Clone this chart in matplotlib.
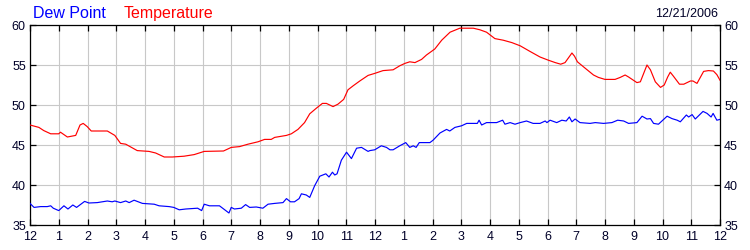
import matplotlib
matplotlib.use("Agg")
import matplotlib.pyplot as plt

plt.rcParams['font.family'] = ['Liberation Sans', 'DejaVu Sans']

# hours since midnight
temp_hours = [0, 0.31, 0.48, 0.72, 1.0, 1.06, 1.3, 1.59, 1.74, 1.85, 1.99, 2.13, 2.69, 2.95, 3.15, 3.33,
              3.73, 4.14, 4.37, 4.67, 4.95, 5.36, 5.71, 6.06, 6.73, 7.0, 7.29, 7.58, 7.93, 8.16, 8.39, 8.51,
              8.92, 9.09, 9.32, 9.55, 9.73, 9.96, 10.17, 10.31, 10.54, 10.71, 10.91, 11.06, 11.24, 11.47,
              11.76, 11.99, 12.28, 12.63, 12.86, 13.04, 13.21, 13.39, 13.62, 13.79, 14.08, 14.32, 14.61,
              14.95, 15.42, 15.65, 15.88, 16.17, 16.46, 16.76, 17.05, 17.39, 17.74, 18.03, 18.27, 18.46,
              18.61, 18.73, 18.85, 18.94, 19.04, 19.31, 19.6, 19.77, 20.0, 20.35, 20.53, 20.7, 20.82,
              21.11, 21.23, 21.46, 21.58, 21.75, 21.93, 22.06, 22.18, 22.27, 22.38, 22.59, 22.74, 22.97,
              23.06, 23.2, 23.43, 23.6, 23.77, 23.89, 24.0]
temperature = [47.5, 47.2, 46.8, 46.4, 46.4, 46.6, 46.0, 46.2, 47.5, 47.7, 47.3, 46.75, 46.75, 46.2, 45.2, 45.1,
               44.3, 44.2, 44.0, 43.5, 43.5, 43.6, 43.8, 44.2, 44.25, 44.7, 44.8, 45.1, 45.4, 45.7, 45.7, 45.95,
               46.2, 46.4, 46.95, 47.8, 48.9, 49.6, 50.2, 50.2, 49.8, 50.1, 50.7, 51.9, 52.4, 53.0,
               53.7, 53.95, 54.3, 54.4, 54.9, 55.2, 55.4, 55.3, 55.7, 56.25, 57.0, 58.1, 59.1,
               59.6, 59.6, 59.4, 59.1, 58.3, 58.1, 57.8, 57.4, 56.7, 56.0, 55.6, 55.3, 55.1,
               55.3, 55.9, 56.5, 56.1, 55.4, 54.6, 53.75, 53.45, 53.2, 53.2, 53.45, 53.75, 53.5,
               52.8, 52.9, 55.0, 54.4, 52.9, 52.2, 52.5, 53.5, 54.1, 53.6, 52.6, 52.6, 53.0,
               53.0, 52.7, 54.2, 54.3, 54.25, 53.8, 53.1]

dew_hours = [0, 0.14, 0.37, 0.6, 0.72, 0.81, 1.0, 1.18, 1.32, 1.49, 1.62, 1.9, 2.05, 2.34, 2.69, 2.86, 2.95,
             3.15, 3.33, 3.45, 3.62, 3.91, 4.32, 4.49, 4.84, 5.0, 5.19, 5.42, 5.83, 5.97, 6.06, 6.24, 6.59,
             6.77, 6.92, 7.0, 7.11, 7.35, 7.5, 7.64, 7.87, 8.1, 8.28, 8.51, 8.8, 8.92, 9.06, 9.2, 9.36, 9.44,
             9.61, 9.73, 9.9, 10.08, 10.29, 10.4, 10.52, 10.6, 10.68, 10.83, 11.01, 11.18, 11.36, 11.53,
             11.76, 11.82, 11.99, 12.22, 12.4, 12.52, 12.63, 12.86, 13.07, 13.21, 13.33, 13.43, 13.54, 13.74,
             13.91, 14.02, 14.26, 14.49, 14.6, 14.78, 15.01, 15.19, 15.56, 15.62, 15.71, 15.88, 16.23, 16.44,
             16.52, 16.7, 16.87, 17.05, 17.27, 17.5, 17.74, 17.92, 17.98, 18.09, 18.32, 18.5, 18.65, 18.76,
             18.85, 18.96, 19.13, 19.48, 19.66, 19.95, 20.24, 20.44, 20.65, 20.82, 21.11, 21.29, 21.46, 21.58,
             21.69, 21.86, 22.16, 22.33, 22.51, 22.62, 22.83, 22.91, 23.03, 23.14, 23.41, 23.55, 23.69, 23.76,
             23.89, 24.0]
dew_point = [37.7, 37.2, 37.3, 37.3, 37.4, 37.1, 36.8, 37.4, 37.0, 37.5, 37.2, 37.95, 37.75, 37.8, 38.0, 37.9, 38.0,
             37.8, 38.0, 37.8, 38.1, 37.7, 37.6, 37.4, 37.3, 37.2, 36.9, 37.0, 37.1, 36.8, 37.6, 37.4, 37.4,
             36.9, 36.5, 37.2, 37.0, 37.1, 37.55, 37.2, 37.25, 37.1, 37.6, 37.7, 37.8, 38.3, 37.9, 37.9, 38.3, 38.9,
             38.75, 38.45, 39.9, 41.1, 41.4, 41.0, 41.6, 41.25, 41.4, 43.1, 44.1, 43.3, 44.6, 44.7,
             44.2, 44.3, 44.4, 44.9, 44.7, 44.4, 44.4, 44.9, 45.3, 44.7, 44.9, 44.7, 45.3, 45.3,
             45.3, 45.6, 46.5, 46.95, 46.75, 47.2, 47.4, 47.7, 47.7, 48.1, 47.5, 47.8, 47.8, 48.1,
             47.6, 47.8, 47.6, 47.8, 48.0, 47.7, 47.7, 48.0, 47.8, 48.1, 47.8, 48.1, 48.0, 48.5,
             47.9, 48.25, 47.8, 47.7, 47.8, 47.7, 47.8, 48.1, 48.0, 47.7, 47.8, 48.6, 48.25, 48.3,
             47.7, 47.6, 48.6, 48.3, 48.1, 47.9, 48.75, 48.5, 48.8, 48.25, 49.2, 48.95, 48.5, 48.95,
             48.1, 48.2]

x_ticks = list(range(0, 25))
x_labels = ['12', '1', '2', '3', '4', '5', '6', '7', '8', '9', '10', '11',
            '12', '1', '2', '3', '4', '5', '6', '7', '8', '9', '10', '11', '12']
y_ticks = [35, 40, 45, 50, 55, 60]
date_label = '12/21/2006'

text_col = '#000028'

fig = plt.figure(figsize=(7.5, 2.5), dpi=100)
ax = fig.add_axes([30 / 750, 25 / 250, 690 / 750, 200 / 250])

ax.plot(dew_hours, dew_point, color='#0000ff', lw=0.85, zorder=3)
ax.plot(temp_hours, temperature, color='#ff0000', lw=0.85, zorder=3)

ax.set_xlim(0, 24)
ax.set_ylim(35, 60)
ax.set_xticks(x_ticks)
ax.set_xticklabels(x_labels)
ax.set_yticks(y_ticks)
ax.grid(True, color='#c8c8c8', lw=0.8, zorder=0)
ax.set_axisbelow(True)

ax.tick_params(axis='both', direction='in', length=4, width=0.9, color='black',
               labelsize=9, labelcolor=text_col, top=True, right=True,
               labelleft=True, labelright=True, labeltop=False)
ax.tick_params(axis='x', pad=4)
ax.tick_params(axis='y', pad=3)
for s in ax.spines.values():
    s.set_color('black')
    s.set_linewidth(0.9)

fig.text(33 / 750, 1 - 18.3 / 250, 'Dew Point', color='#0000ff', fontsize=11.5, va='baseline', ha='left')
fig.text(124 / 750, 1 - 18.3 / 250, 'Temperature', color='#ff0000', fontsize=11.5, va='baseline', ha='left')
fig.text(718 / 750, 1 - 17 / 250, date_label, color=text_col, fontsize=9, va='baseline', ha='right')

fig.savefig('out.png', dpi=100)
